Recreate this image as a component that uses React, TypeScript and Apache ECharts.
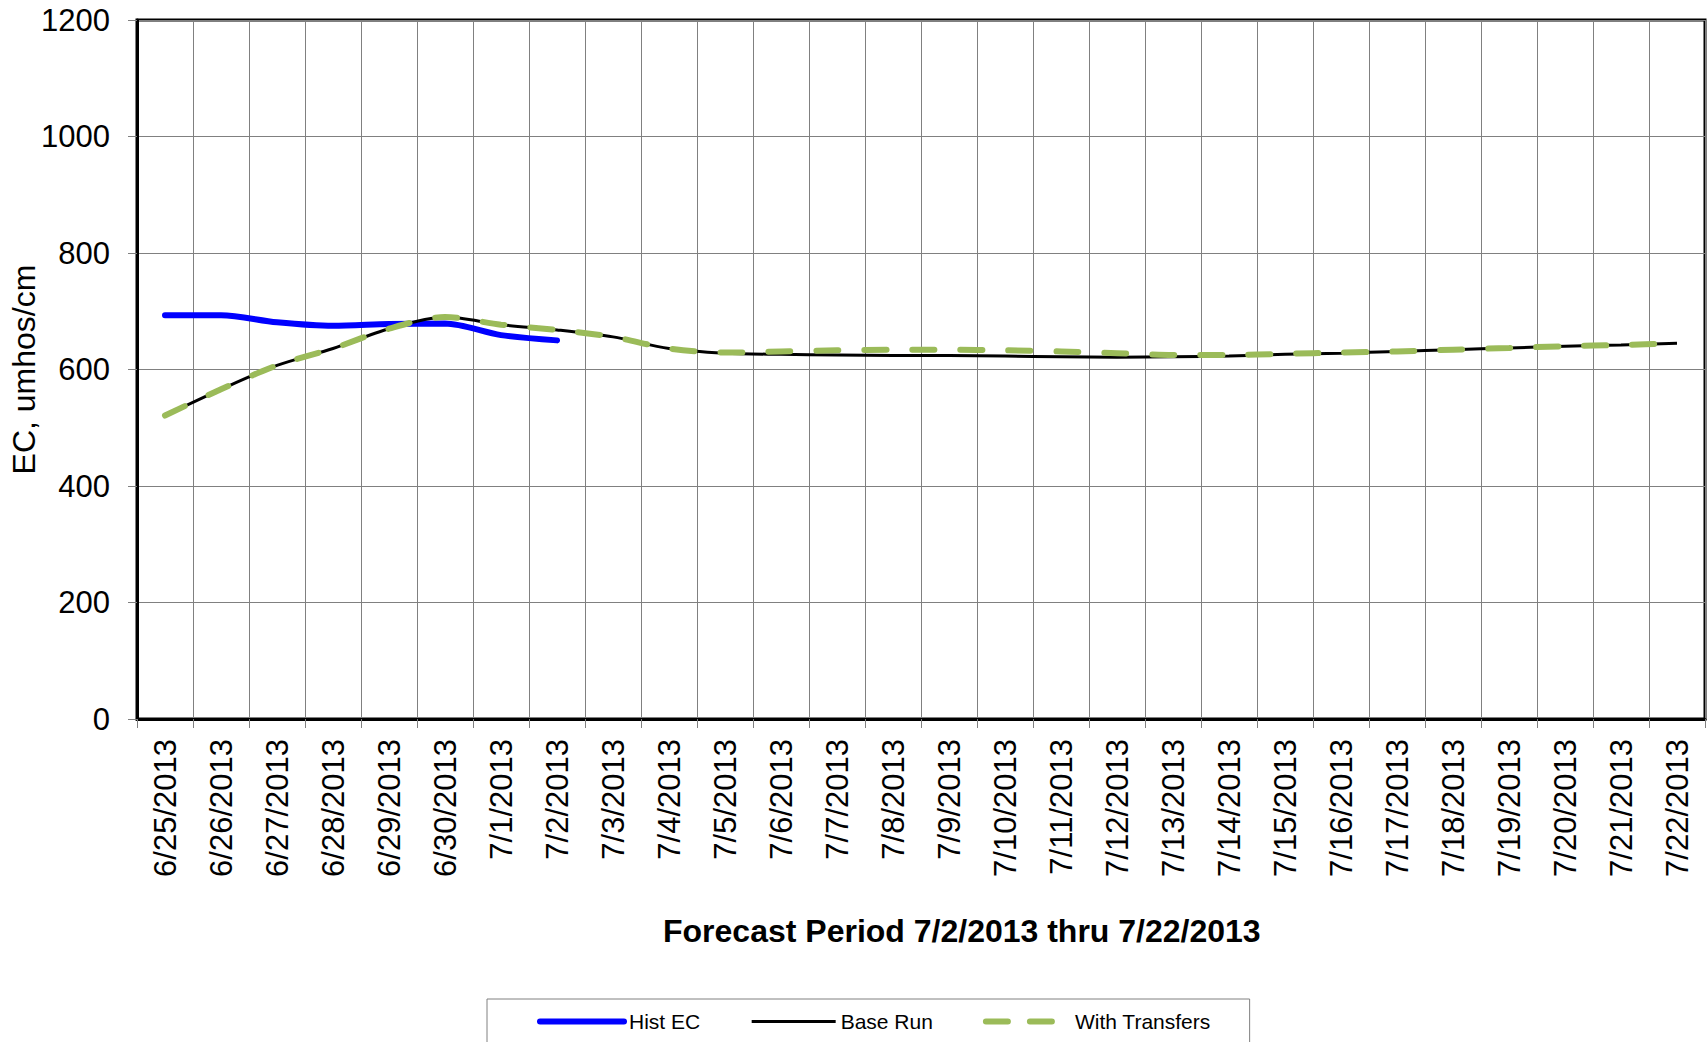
import React, { useEffect, useRef } from "react";
import * as echarts from "echarts";

const categories = [
  "6/25/2013", "6/26/2013", "6/27/2013", "6/28/2013", "6/29/2013", "6/30/2013",
  "7/1/2013", "7/2/2013", "7/3/2013", "7/4/2013", "7/5/2013", "7/6/2013",
  "7/7/2013", "7/8/2013", "7/9/2013", "7/10/2013", "7/11/2013", "7/12/2013",
  "7/13/2013", "7/14/2013", "7/15/2013", "7/16/2013", "7/17/2013", "7/18/2013",
  "7/19/2013", "7/20/2013", "7/21/2013", "7/22/2013",
];

const histEC = [693, 693, 681, 675, 678, 679, 659, 650];

const baseRun = [
  521, 566, 607, 636, 670, 690, 677, 668, 656, 636, 628, 626, 625, 624,
  624, 623, 622, 621, 622, 623, 626, 628, 631, 634, 637, 640, 642, 645,
];

const withTransfers = [
  521, 566, 607, 636, 670, 690, 677, 668, 656, 636, 629, 631, 633, 634,
  634, 633, 631, 628, 625, 625, 627, 629, 631, 634, 637, 640, 642, 645,
];

const yTicks = { min: 0, max: 1200, interval: 200 };

const xAxisTitle = "Forecast Period 7/2/2013 thru 7/22/2013";
const yAxisTitle = "EC, umhos/cm";

const FONT = "'Liberation Sans', Arial, sans-serif";

export default function App() {
  const ref = useRef<HTMLDivElement>(null);

  useEffect(() => {
    if (!ref.current) return;
    const chart = echarts.init(ref.current, undefined, { renderer: "svg" });
    chart.setOption({
      animation: false,
      backgroundColor: "#ffffff",
      textStyle: { fontFamily: FONT },
      grid: {
        left: 137,
        right: 2,
        top: 20,
        bottom: 323,
        containLabel: false,
        outerBoundsMode: "none",
        show: true,
        borderColor: "#000000",
        borderWidth: 3,
        backgroundColor: "transparent",
      },
      xAxis: {
        type: "category",
        data: categories,
        boundaryGap: true,
        axisLine: { show: true, lineStyle: { color: "#000000", width: 3 } },
        axisTick: {
          show: true,
          alignWithLabel: false,
          length: 9,
          lineStyle: { color: "#808080", width: 1 },
        },
        axisLabel: {
          rotate: 90,
          interval: 0,
          margin: 20,
          fontSize: 31,
          color: "#000000",
          fontFamily: FONT,
        },
        splitLine: {
          show: true,
          interval: 0,
          lineStyle: { color: "#808080", width: 1 },
        },
      },
      yAxis: {
        type: "value",
        min: yTicks.min,
        max: yTicks.max,
        interval: yTicks.interval,
        name: yAxisTitle,
        nameLocation: "middle",
        nameGap: 97,
        nameMoveOverlap: false,
        nameTextStyle: { fontSize: 32, color: "#000000", fontFamily: FONT },
        axisLine: { show: true, lineStyle: { color: "#000000", width: 3 } },
        axisTick: { show: true, length: 9, lineStyle: { color: "#808080", width: 1 } },
        axisLabel: {
          margin: 27,
          fontSize: 31,
          color: "#000000",
          fontFamily: FONT,
          formatter: (v: number) => String(v),
        },
        splitLine: { show: true, lineStyle: { color: "#808080", width: 1 } },
      },
      legend: {
        show: true,
        left: 487,
        top: 999,
        orient: "horizontal",
        padding: [12, 39, 40, 50],
        itemGap: 50,
        itemWidth: 84,
        itemHeight: 20,
        borderColor: "#808080",
        borderWidth: 1,
        textStyle: { fontSize: 21, color: "#000000", fontFamily: FONT },
        data: [
          {
            name: "Hist EC",
            itemStyle: { opacity: 0 },
            lineStyle: { width: 6, color: "#0000FF", cap: "round" },
          },
          {
            name: "Base Run",
            itemStyle: { opacity: 0 },
            lineStyle: { width: 3, color: "#000000" },
          },
          {
            name: "With Transfers",
            itemStyle: { opacity: 0 },
            lineStyle: { width: 6, color: "#9BBB59", type: [22, 22], cap: "round" },
          },
        ],
      },
      graphic: [
        {
          type: "text",
          left: 963 - 300,
          top: 915,
          style: {
            text: xAxisTitle,
            fontSize: 32,
            fontWeight: "bold",
            fill: "#000000",
            fontFamily: FONT,
            width: 600,
            align: "center",
          },
        },
      ],
      series: [
        {
          name: "Hist EC",
          type: "line",
          data: histEC,
          symbol: "none",
          smooth: 0.3,
          lineStyle: { color: "#0000FF", width: 6, cap: "round" },
          itemStyle: { color: "#0000FF" },
        },
        {
          name: "Base Run",
          type: "line",
          data: baseRun,
          symbol: "none",
          smooth: 0.3,
          lineStyle: { color: "#000000", width: 3 },
          itemStyle: { color: "#000000" },
        },
        {
          name: "With Transfers",
          type: "line",
          data: withTransfers,
          symbol: "none",
          smooth: 0.3,
          lineStyle: { color: "#9BBB59", width: 6, type: [22, 26], cap: "round" },
          itemStyle: { color: "#9BBB59" },
        },
      ],
    });
    return () => chart.dispose();
  }, []);

  return (
    <div
      ref={ref}
      style={{ position: "fixed", left: 0, top: 0, width: 1707, height: 1042 }}
    />
  );
}
